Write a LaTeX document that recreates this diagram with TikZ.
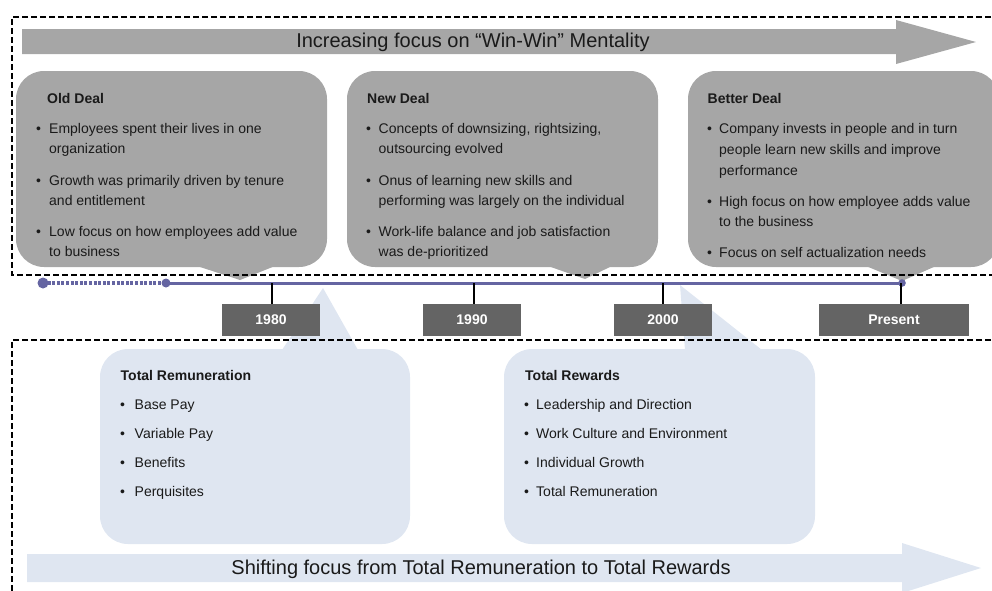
\documentclass[tikz,border=0pt]{standalone}
\usepackage{fontspec}
\setmainfont{Liberation Sans}
\definecolor{dealgray}{HTML}{A6A6A6}
\definecolor{yeargray}{HTML}{646464}
\definecolor{lightblue}{HTML}{DFE6F1}
\definecolor{tlblue}{HTML}{6565A2}
\definecolor{txt}{HTML}{1A1A1A}
\begin{document}
\begin{tikzpicture}[x=1pt,y=-1pt,
  body/.style={anchor=base west, inner sep=0pt, text=txt, font=\fontsize{14}{16}\selectfont},
  headtxt/.style={body, font=\fontsize{14}{16}\selectfont\bfseries},
  bigtxt/.style={inner sep=0pt, text=txt, font=\fontsize{20}{22}\selectfont},
  yearbox/.style={fill=yeargray, minimum width=98pt, minimum height=32pt, inner sep=0pt, text=white, font=\fontsize{14}{16}\selectfont\bfseries},
  dealfill/.style={fill=dealgray, rounded corners=28pt},
  bluefill/.style={fill=lightblue, rounded corners=28pt},
  dashbox/.style={draw=black, line width=2pt, dash pattern=on 6pt off 3pt},
  tick/.style={draw=black, line width=1.6pt},
]
\useasboundingbox (0,0) rectangle (992,590);
\clip (0,0) rectangle (992,590);

% top arrow
\fill[dealgray] (22,29) -- (896,29) -- (896,20) -- (976,42) -- (896,64) -- (896,54) -- (22,54) -- cycle;
\node[bigtxt] (toptext) at (473,42) {Increasing focus on “Win-Win” Mentality};

% deal callouts
\fill[dealfill] (16,71) rectangle (327,267);
\fill[dealgray] (197,266) -- (240,280) -- (275,266) -- cycle;
\fill[dealfill] (347,71) rectangle (658,267);
\fill[dealgray] (548,266) -- (585,279) -- (612,266) -- cycle;
\fill[dealfill] (688,71) rectangle (999,267);
\fill[dealgray] (866,266) -- (902,281) -- (936,266) -- cycle;

% lower callouts
\fill[bluefill] (100,349) rectangle (410,544);
\fill[lightblue] (282,350) -- (323,288) -- (358,350) -- cycle;
\fill[bluefill] (504,349) rectangle (815,544);
\fill[lightblue] (685,350) -- (680,285) -- (762,350) -- cycle;

% dashed frames
\draw[dashbox] (1000,17) -- (12,17) -- (12,275) -- (1000,275);
\draw[dashbox] (1000,340) -- (12,340) -- (12,600);

% timeline
\coordinate (tl0) at (43,283);
\coordinate (tl1) at (166,283);
\coordinate (tl2) at (902,283);
\draw[tlblue, line width=4pt, dash pattern=on 3pt off 1.6pt] (tl0) -- (tl1);
\draw[tlblue, line width=3pt] (tl1) -- (tl2);
\fill[tlblue] (tl0) circle (5.5);
\fill[tlblue] (tl1) circle (4.5);
\fill[tlblue] (tl2) circle (3.8);

% year boxes and ticks
\node[yearbox] (y1980) at (271,320) {1980};
\node[yearbox] (y1990) at (472,320) {1990};
\node[yearbox] (y2000) at (663,320) {2000};
\node[yearbox, minimum width=150pt] (ypres) at (894,320) {Present};
\coordinate (t1980) at (272,283);
\coordinate (t1990) at (474,283);
\coordinate (t2000) at (663,283);
\coordinate (tpres) at (901,283);
\draw[tick] (t1980) -- (t1980 |- y1980.north);
\draw[tick] (t1990) -- (t1990 |- y1990.north);
\draw[tick] (t2000) -- (t2000 |- y2000.north);
\draw[tick] (tpres) -- (tpres |- ypres.north);

% bottom arrow
\fill[lightblue] (27,554) -- (902,554) -- (902,543) -- (981,568) -- (902,593) -- (902,582) -- (27,582) -- cycle;
\node[bigtxt] (bottext) at (481,569) {Shifting focus from Total Remuneration to Total Rewards};

% Old Deal text
\node[headtxt] (od) at (47,103) {Old Deal};
\node[body] (odb1) at (36,133.3) {•};
\node[body] (od1) at (49,133.3) {Employees spent their lives in one};
\node[body] (od1b) at (49,153.3) {organization};
\node[body] (odb2) at (36,185) {•};
\node[body] (od2) at (49,185) {Growth was primarily driven by tenure};
\node[body] (od2b) at (49,205) {and entitlement};
\node[body] (odb3) at (36,236.7) {•};
\node[body] (od3) at (49,236.7) {Low focus on how employees add value};
\node[body] (od3b) at (49,256.7) {to business};

% New Deal text
\node[headtxt] (nd) at (367,103) {New Deal};
\node[body] (ndb1) at (366,133.3) {•};
\node[body] (nd1) at (378.5,133.3) {Concepts of downsizing, rightsizing,};
\node[body] (nd1b) at (378.5,153.3) {outsourcing evolved};
\node[body] (ndb2) at (366,185) {•};
\node[body] (nd2) at (378.5,185) {Onus of learning new skills and};
\node[body] (nd2b) at (378.5,205) {performing was largely on the individual};
\node[body] (ndb3) at (366,236.7) {•};
\node[body] (nd3) at (378.5,236.7) {Work-life balance and job satisfaction};
\node[body] (nd3b) at (378.5,256.7) {was de-prioritized};

% Better Deal text
\node[headtxt] (bd) at (707.5,103) {Better Deal};
\node[body] (bdb1) at (707,133.3) {•};
\node[body] (bd1) at (719,133.3) {Company invests in people and in turn};
\node[body] (bd1b) at (719,154.2) {people learn new skills and improve};
\node[body] (bd1c) at (719,175) {performance};
\node[body] (bdb2) at (707,206) {•};
\node[body] (bd2) at (719,206) {High focus on how employee adds value};
\node[body] (bd2b) at (719,226.7) {to the business};
\node[body] (bdb3) at (707,257.3) {•};
\node[body] (bd3) at (719,257.3) {Focus on self actualization needs};

% Total Remuneration text
\node[headtxt] (tr) at (120.5,380) {Total Remuneration};
\node[body] (trb1) at (120,409.5) {•};
\node[body] (tr1) at (134.5,409.5) {Base Pay};
\node[body] (trb2) at (120,438.3) {•};
\node[body] (tr2) at (134.5,438.3) {Variable Pay};
\node[body] (trb3) at (120,467) {•};
\node[body] (tr3) at (134.5,467) {Benefits};
\node[body] (trb4) at (120,496) {•};
\node[body] (tr4) at (134.5,496) {Perquisites};

% Total Rewards text
\node[headtxt] (tw) at (525,380) {Total Rewards};
\node[body] (twb1) at (524,409.5) {•};
\node[body] (tw1) at (536,409.5) {Leadership and Direction};
\node[body] (twb2) at (524,438.3) {•};
\node[body] (tw2) at (536,438.3) {Work Culture and Environment};
\node[body] (twb3) at (524,467) {•};
\node[body] (tw3) at (536,467) {Individual Growth};
\node[body] (twb4) at (524,496) {•};
\node[body] (tw4) at (536,496) {Total Remuneration};
\end{tikzpicture}
\end{document}
